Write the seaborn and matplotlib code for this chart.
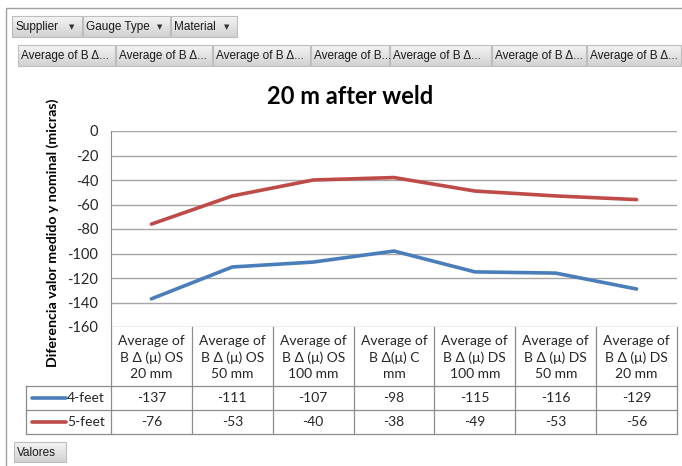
import numpy as np
import pandas as pd
import matplotlib
matplotlib.use("Agg")
import matplotlib.pyplot as plt
import matplotlib.transforms as mtransforms
from matplotlib.patches import Rectangle
import seaborn as sns

# chart data
categories = [
    "Average of\nB Δ (μ) OS\n20 mm",
    "Average of\nB Δ (μ) OS\n50 mm",
    "Average of\nB Δ (μ) OS\n100 mm",
    "Average of\nB Δ(μ) C\nmm",
    "Average of\nB Δ (μ) DS\n100 mm",
    "Average of\nB Δ (μ) DS\n50 mm",
    "Average of\nB Δ (μ) DS\n20 mm",
]
series_names = ["4-feet", "5-feet"]
values_4feet = [-137, -111, -107, -98, -115, -116, -129]
values_5feet = [-76, -53, -40, -38, -49, -53, -56]
yticks = list(range(-160, 1, 20))
filter_buttons = ["Supplier", "Gauge Type", "Material"]
value_buttons = ["Average of B Δ...", "Average of B Δ...", "Average of B Δ...",
                 "Average of B...", "Average of B Δ...", "Average of B Δ...",
                 "Average of B Δ..."]
title = "20 m after weld"
ylabel = "Diferencia valor medido y nominal (micras)"

colors = {"4-feet": "#4A7EBB", "5-feet": "#BE4B48"}
FONT = ["Lato", "DejaVu Sans"]
UIFONT = ["Liberation Sans Narrow", "Liberation Sans", "DejaVu Sans"]
GRID = "#A6A6A6"
TABLE = "#8C8C8C"

df = pd.DataFrame({
    "cat": list(range(len(categories))) * 2,
    "value": values_4feet + values_5feet,
    "series": [series_names[0]] * len(categories) + [series_names[1]] * len(categories),
})

W, H = 682, 466
fig = plt.figure(figsize=(W / 100, H / 100), dpi=100)

# full-figure overlay in pixel coordinates for the pivot-table chrome
ui = fig.add_axes([0, 0, 1, 1], zorder=0)
ui.set_xlim(0, W)
ui.set_ylim(H, 0)
ui.axis("off")

# plot area
px0, px1, py0, py1 = 111, 677, 131, 327
ax = fig.add_axes([px0 / W, 1 - py1 / H, (px1 - px0) / W, (py1 - py0) / H], zorder=2)
ax.patch.set_alpha(0)

sns.lineplot(data=df, x="cat", y="value", hue="series", palette=colors,
             linewidth=2.6, ax=ax, legend=False)
for ln in ax.lines:
    ln.set_solid_capstyle("round")
ax.set_xlim(-0.5, len(categories) - 0.5)
ax.set_ylim(-160, 0)
ax.set_yticks(yticks)
ax.set_yticklabels([str(t) for t in yticks], fontsize=10.5, family=FONT, color="#262626")
ax.set_xticks([])
ax.tick_params(axis="y", length=0, pad=9)
ax.grid(axis="y", color=GRID, linewidth=1)
ax.set_axisbelow(True)
for s in ["top", "right", "bottom"]:
    ax.spines[s].set_visible(False)
ax.spines["left"].set_color(TABLE)
ax.set_xlabel("")
ax.set_ylabel("")

# outer frame
ui.add_patch(Rectangle((6, 8), 680, 470, fill=False, edgecolor="#A0A0A0", linewidth=1))


def button(x0, x1, y0, y1, label, arrow=False):
    grad = np.linspace(0, 1, 32).reshape(-1, 1)
    ui.imshow(grad, cmap=matplotlib.colors.LinearSegmentedColormap.from_list(
        "b", ["#F4F4F4", "#D2D2D2"]), extent=(x0, x1, y1, y0), aspect="auto", zorder=1)
    ui.add_patch(Rectangle((x0, y0), x1 - x0, y1 - y0, fill=False,
                           edgecolor="#BDBDBD", linewidth=0.8, zorder=2))
    ui.text(x0 + 3, (y0 + y1) / 2 + 0.5, label, fontsize=8.5, family=UIFONT,
            ha="left", va="center", color="#1a1a1a", zorder=3)
    if arrow:
        ui.text(x1 - 10, (y0 + y1) / 2 + 0.5, "▼", fontsize=5, family=["DejaVu Sans"],
                ha="center", va="center", color="#333333", zorder=3)


fx = [12, 83, 171, 238]
for i, lab in enumerate(filter_buttons):
    button(fx[i], fx[i + 1] - 1, 16, 37, lab, arrow=True)

vx = [18, 116, 213, 311, 390, 492, 587, 682]
for i, lab in enumerate(value_buttons):
    button(vx[i], vx[i + 1] - 1, 45, 66, lab)

button(14, 66, 442, 462, "Valores")

# title and axis label
ui.text(350, 97, title, fontsize=17, fontweight="bold", family=FONT,
        ha="center", va="center", color="black")
ui.text(53, 233, ylabel, fontsize=10.2, fontweight="bold", family=FONT,
        rotation=90, ha="center", va="center", color="black")

# data table: x in category units of the plot, y in pixels
tr = mtransforms.blended_transform_factory(ax.transData, ui.transData)
n = len(categories)
hdr_y0, hdr_y1, r1, r2 = 327, 386, 410, 434
for k in range(n + 1):
    ui.plot([k - 0.5, k - 0.5], [hdr_y0, r2], color=TABLE, lw=0.9, transform=tr, zorder=3)
for y in (hdr_y1, r1, r2):
    ui.plot([26, px1], [y, y], color=TABLE, lw=0.9, zorder=3)
ui.plot([26, 26], [hdr_y1, r2], color=TABLE, lw=0.9, zorder=3)

for i, cat in enumerate(categories):
    ui.text(i, (hdr_y0 + hdr_y1) / 2 + 1, cat, transform=tr, fontsize=10, family=FONT,
            ha="center", va="center", linespacing=1.4, color="#262626", zorder=4)

rows = [(series_names[0], values_4feet, hdr_y1, r1), (series_names[1], values_5feet, r1, r2)]
for name, vals, y0, y1 in rows:
    yc = (y0 + y1) / 2
    for i, v in enumerate(vals):
        ui.text(i, yc, str(v), transform=tr, fontsize=10, family=FONT,
                ha="center", va="center", color="#262626", zorder=4)
    ui.plot([32, 66], [yc, yc], color=colors[name], lw=2.6, solid_capstyle="round", zorder=4)
    ui.text(67, yc, name, fontsize=10, family=FONT, ha="left", va="center",
            color="#262626", zorder=4)

fig.savefig("out.png", dpi=100)
plt.close(fig)
